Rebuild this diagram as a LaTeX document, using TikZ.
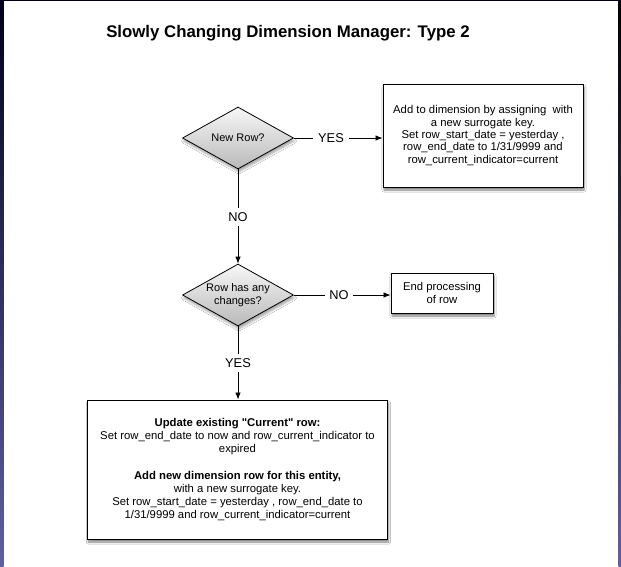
\documentclass[tikz,border=0pt]{standalone}
\usepackage{fontspec}
\setmainfont{Liberation Sans}[Ligatures=TeXOff]
\usetikzlibrary{shapes.geometric,arrows.meta,shadows.blur}

\begin{document}
\begin{tikzpicture}[x=1pt,y=1pt,
  decision/.style={draw,diamond,aspect=1.8,inner sep=0pt,line width=0.8pt,
     minimum width=111pt,minimum height=62pt,align=center,
     top color=gray!6,bottom color=gray!55,
     font=\fontsize{11}{13}\selectfont,
     blur shadow={shadow xshift=1pt,shadow yshift=-3pt,shadow blur steps=6,shadow opacity=35}},
  action/.style={draw,rectangle,fill=white,line width=0.9pt,align=center,inner sep=2pt,
     font=\fontsize{11.3}{13}\selectfont,
     blur shadow={shadow xshift=1pt,shadow yshift=-3pt,shadow blur steps=6,shadow opacity=50}},
  answer/.style={font=\fontsize{12.8}{14}\selectfont,inner sep=4.5pt},
  link/.style={line width=0.8pt},
  flow/.style={line width=0.8pt,-{Latex[length=7pt,width=5.5pt]}}]

%%% page and window edges %%%
\useasboundingbox (0,0) rectangle (621,-566);
\fill[white] (0,0) rectangle (621,-566);
\shade[top color=black!90!blue,bottom color=blue!25!gray] (0,0) rectangle (3.5,-566);
\shade[top color=black,bottom color=blue!25!gray] (618.5,0) rectangle (621,-566);
\fill[black!90!blue] (0,0) rectangle (621,-1.2);

%%% title %%%
\node (title) at (288,-33) [font=\bfseries\fontsize{16.8}{19}\selectfont] {Slowly Changing Dimension Manager: Type 2};

%%% decisions and actions %%%
\node (newrow) at (238,-138) [decision] {New Row?};
\node (changes) at (238,-295) [decision] {Row has any\\changes?};

\node (addrow) at (483,-135.5) [action,minimum width=200pt,minimum height=103pt,
  font=\fontsize{11.3}{12.3}\selectfont]
  {Add to dimension by assigning \ with\\a new surrogate key.\\Set row\_start\_date = yesterday ,\\row\_end\_date to 1/31/9999 and\\row\_current\_indicator=current};
\node (endrow) at (442,-293) [action,minimum width=102pt,minimum height=40pt] {End processing\\of row};
\node (update) at (237.5,-469.5) [action,minimum width=300pt,minimum height=139pt]
  {\textbf{Update existing "Current" row:}\\Set row\_end\_date to now and row\_current\_indicator to\\expired\\[14pt]
   \textbf{Add new dimension row for this entity,}\\with a new surrogate key.\\Set row\_start\_date = yesterday , row\_end\_date to\\1/31/9999 and row\_current\_indicator=current};

%%% answers %%%
\node (yes1) at (331,-138) [answer] {YES};
\node (no1) at (238,-217) [answer] {NO};
\node (no2) at (339,-295) [answer] {NO};
\node (yes2) at (238,-363) [answer] {YES};

\draw[link] (newrow) -- (yes1);
\draw[flow] (yes1) -- (addrow.west |- yes1);
\draw[link] (newrow) -- (no1);
\draw[flow] (no1) -- (changes);
\draw[link] (changes) -- (no2);
\draw[flow] (no2) -- (endrow.west |- no2);
\draw[link] (changes) -- (yes2);
\draw[flow] (yes2) -- (update.north -| yes2);
\end{tikzpicture}
\end{document}
